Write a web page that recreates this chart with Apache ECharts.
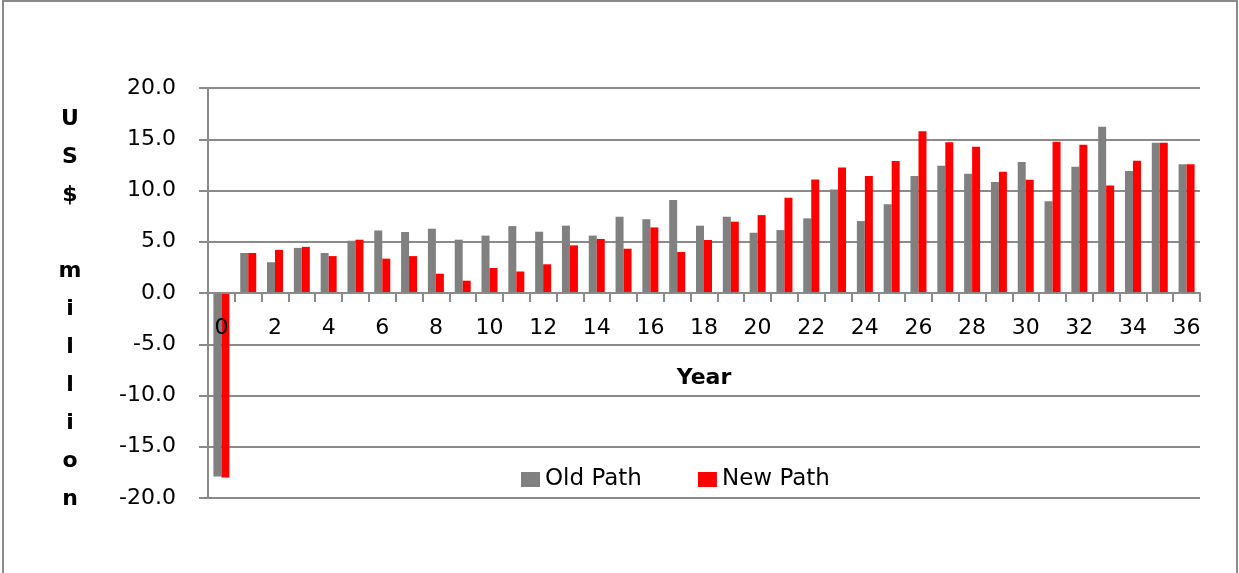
<!DOCTYPE html>
<html>
<head>
<meta charset="utf-8">
<script src="https://cdn.jsdelivr.net/npm/echarts@6/dist/echarts.min.js"></script>
<style>
    html, body {margin: 0; padding: 0; background: #fff;}
    #chart {width: 1239px; height: 573px;}
</style>
</head>
<body>
<div id="chart"></div>
<script>
// years 0..36
let years = [];
for (let i = 0; i <= 36; i++) years.push(String(i));

let oldPath = [-17.9, 3.9, 3.0, 4.4, 3.9, 5.1, 6.1, 5.95, 6.27, 5.2,
    5.6, 6.53, 5.98, 6.57, 5.6, 7.44, 7.2, 9.07, 6.57, 7.44,
    5.88, 6.14, 7.28, 10.1, 7.02, 8.65, 11.41, 12.42, 11.64, 10.83,
    12.78, 8.94, 12.32, 16.22, 11.9, 14.66, 12.55];

let newPath = [-18.0, 3.9, 4.2, 4.5, 3.6, 5.2, 3.35, 3.6, 1.88, 1.2,
    2.44, 2.1, 2.8, 4.65, 5.27, 4.32, 6.4, 4.0, 5.17, 6.96,
    7.6, 9.3, 11.08, 12.25, 11.41, 12.88, 15.77, 14.7, 14.27, 11.83,
    11.05, 14.76, 14.47, 10.5, 12.9, 14.66, 12.55];

let seriesNames = ['Old Path', 'New Path'];
let yAxisTitle = ['U', 'S', '$', ' ', 'm', 'i', 'l', 'l', 'i', 'o', 'n'];

let myChart = echarts.init(document.getElementById('chart'));
let fontFamily = '"DejaVu Sans", Verdana, sans-serif';
let lineColor = '#8a8a8a';

// stacked letters, with a small spacer line on top to push them down a bit
let yName = '{gap| }\n' + yAxisTitle.map(function (c)
{
    return '{t|' + c + '}';
}).join('\n');

let option = {
    animation: false,
    textStyle: {fontFamily: fontFamily},
    graphic: [{
        type: 'rect',
        shape: {x: 3, y: 1, width: 1234, height: 620},
        style: {fill: null, stroke: lineColor, lineWidth: 2},
        silent: true
    }],
    grid: {
        left: 208,
        right: 39,
        top: 88,
        bottom: 75,
        containLabel: false,
        outerBoundsMode: 'none'
    },
    legend: {
        data: seriesNames,
        left: 521,
        top: 468,
        padding: 0,
        itemWidth: 19,
        itemHeight: 15,
        itemGap: 56,
        icon: 'rect',
        textStyle: {fontSize: 23, color: '#000', fontFamily: fontFamily}
    },
    xAxis: {
        type: 'category',
        data: years,
        position: 'bottom',
        offset: -205,
        z: 5,
        name: 'Year',
        nameLocation: 'middle',
        nameGap: 74,
        nameTextStyle: {fontSize: 22, fontWeight: 'bold', color: '#000', fontFamily: fontFamily},
        axisLine: {onZero: false, lineStyle: {color: lineColor, width: 2}},
        axisTick: {show: true, interval: 0, alignWithLabel: false, length: 9, lineStyle: {color: lineColor, width: 2}},
        axisLabel: {interval: 1, margin: 24, fontSize: 22, color: '#000', fontFamily: fontFamily},
        splitLine: {show: false}
    },
    yAxis: {
        type: 'value',
        min: -20,
        max: 20,
        interval: 5,
        name: yName,
        nameLocation: 'middle',
        nameRotate: 0,
        nameGap: 138,
        nameTextStyle: {
            align: 'center',
            verticalAlign: 'middle',
            rich: {
                gap: {fontSize: 10, lineHeight: 32},
                t: {fontSize: 22, fontWeight: 'bold', color: '#000', lineHeight: 38, align: 'center', fontFamily: fontFamily}
            }
        },
        axisLine: {show: true, lineStyle: {color: lineColor, width: 2}},
        axisTick: {show: true, length: 9, lineStyle: {color: lineColor, width: 2}},
        axisLabel: {
            margin: 32,
            fontSize: 22,
            color: '#000',
            fontFamily: fontFamily,
            formatter: function (val)
            {
                return val.toFixed(1);
            }
        },
        splitLine: {show: true, lineStyle: {color: lineColor, width: 2}}
    },
    series: [{
        name: seriesNames[0],
        type: 'bar',
        data: oldPath,
        barWidth: 8,
        barGap: '0%',
        itemStyle: {color: '#808080'}
    }, {
        name: seriesNames[1],
        type: 'bar',
        data: newPath,
        barWidth: 8,
        barGap: '0%',
        itemStyle: {color: '#ff0000'}
    }]
};

myChart.setOption(option);
</script>
</body>
</html>
